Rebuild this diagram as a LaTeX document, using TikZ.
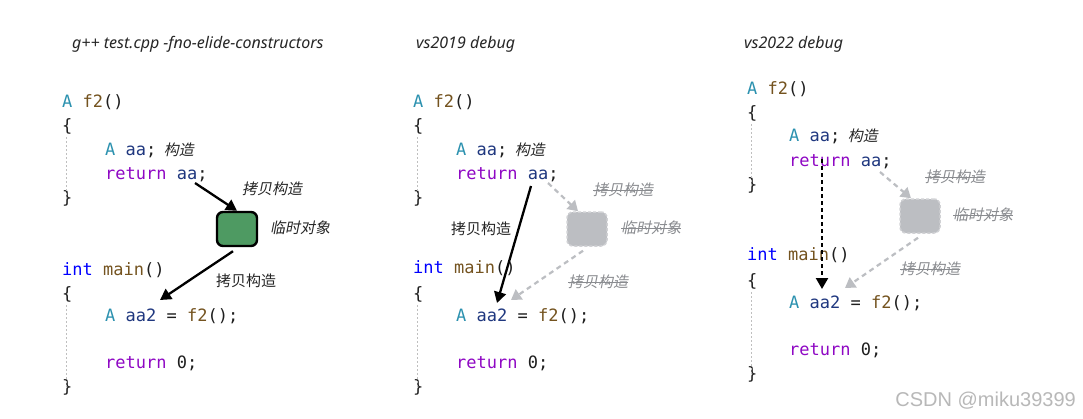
\documentclass[tikz,border=0pt]{standalone}
\usepackage{fontspec}
\setmainfont{Noto Sans}
\setmonofont{DejaVu Sans Mono}
\newfontfamily\cjk{Noto Sans CJK SC}
\newfontfamily\cjki[FakeSlant=0.2]{Noto Sans CJK SC}
\newfontfamily\wm{Liberation Sans}
\usetikzlibrary{arrows.meta}
\definecolor{cType}{HTML}{2B91AF}
\definecolor{cFun}{HTML}{74531F}
\definecolor{cVar}{HTML}{1F377F}
\definecolor{cKey}{HTML}{8F08C4}
\definecolor{cInt}{HTML}{0000FF}
\definecolor{cTxt}{HTML}{1E1E1E}
\definecolor{boxgreen}{HTML}{4E9A62}
\definecolor{ghost}{HTML}{BCBEC2}
\definecolor{ghosttxt}{HTML}{8A8C90}
\newcommand{\tA}{\textcolor{cType}{A}}
\newcommand{\tF}[1]{\textcolor{cFun}{#1}}
\newcommand{\tV}[1]{\textcolor{cVar}{#1}}
\newcommand{\tK}[1]{\textcolor{cKey}{#1}}
\newcommand{\tI}[1]{\textcolor{cInt}{#1}}
\tikzset{
  code/.style={anchor=base west, inner sep=0pt, font=\ttfamily\fontsize{17}{19}\selectfont, text=cTxt},
  title/.style={anchor=west, inner sep=0pt, font=\itshape\fontsize{16}{18}\selectfont, text=black!85},
  note/.style={anchor=west, inner sep=0pt, font=\cjki\fontsize{15}{17}\selectfont, text=black!85},
  noteup/.style={anchor=west, inner sep=0pt, font=\cjk\fontsize{15}{17}\selectfont, text=black!85},
  ghostnote/.style={anchor=west, inner sep=0pt, font=\cjki\fontsize{15}{17}\selectfont, text=ghosttxt,
     append after command={\pgfextra{\draw[ghosttxt, line width=0.9pt] (\tikzlastnode.west) -- (\tikzlastnode.east);}}},
  guide/.style={draw=black!25, dash pattern=on 2pt off 2pt, line width=0.6pt},
  tempbox/.style={draw=black, line width=2.4pt, fill=boxgreen, rounded corners=6pt, minimum width=40pt, minimum height=34pt, inner sep=0pt},
  ghostbox/.style={draw=ghost!70!white, dash pattern=on 3pt off 2pt, line width=1.5pt, fill=ghost, rounded corners=6pt, minimum width=40pt, minimum height=34pt, inner sep=0pt},
  arr/.style={-{Triangle[length=11pt,width=12pt]}, line width=2.3pt, black},
  ghostarr/.style={-{Triangle[length=10pt,width=12pt]}, line width=2.2pt, ghost, dash pattern=on 5pt off 4pt},
  dotarr/.style={-{Triangle[length=11pt,width=12pt]}, line width=2.3pt, black, dash pattern=on 4pt off 3pt},
}
\begin{document}
\begin{tikzpicture}[x=1pt,y=-1pt]
\useasboundingbox[fill=white] (0,0) rectangle (1083,418);

% ---------- Panel 1 ----------
\node[title] (t1) at (72,44) {g++ test.cpp -fno-elide-constructors};
\node[code] (a1) at (62,107) {\tA{} \tF{f2}()};
\node[code] (a2) at (62,131) {\{};
\node[code] (a3) at (105,155) {\tA{} \tV{aa};};
\node[note, anchor=base west] (a3n) at (a3.base east) {\hspace{7pt}构造};
\node[code] (a4) at (105,179) {\tK{return} \tV{aa};};
\node[code] (a5) at (62,203) {\}};
\node[code] (a6) at (62,275) {\tI{int} \tF{main}()};
\node[code] (a7) at (62,299) {\{};
\node[code] (a8) at (105,321) {\tA{} \tV{aa2} = \tF{f2}();};
\node[code] (a9) at (105,368) {\tK{return} 0;};
\node[code] (a10) at (62,392) {\}};
\draw[guide] (66,137) -- (66,200);
\draw[guide] (66,305) -- (66,388);
\node[tempbox] (g1) at (237,229) {};
\node[note] (n11) at (242,189) {拷贝构造};
\node[note] (n12) at (270,228) {临时对象};
\node[noteup] (n13) at (216,281) {拷贝构造};
\coordinate (s1) at (195,183);
\draw[arr] (s1) -- (g1.north);
\coordinate (e1) at (160,300);
\draw[arr] (g1.south) ++(-4,4) -- (e1);

% ---------- Panel 2 ----------
\node[title] (t2) at (416,44) {vs2019 debug};
\node[code] (b1) at (413,107) {\tA{} \tF{f2}()};
\node[code] (b2) at (413,131) {\{};
\node[code] (b3) at (456,155) {\tA{} \tV{aa};};
\node[note, anchor=base west] (b3n) at (b3.base east) {\hspace{7pt}构造};
\node[code] (b4) at (456,179) {\tK{return} \tV{aa};};
\node[code] (b5) at (413,203) {\}};
\node[code] (b6) at (413,273) {\tI{int} \tF{main}()};
\node[code] (b7) at (413,299) {\{};
\node[code] (b8) at (456,321) {\tA{} \tV{aa2} = \tF{f2}();};
\node[code] (b9) at (456,368) {\tK{return} 0;};
\node[code] (b10) at (413,392) {\}};
\draw[guide] (417,137) -- (417,200);
\draw[guide] (417,305) -- (417,388);
\node[ghostbox] (g2) at (587,229) {};
\node[ghostnote] (n21) at (593,190) {拷贝构造};
\node[ghostnote] (n22) at (621,228) {临时对象};
\node[ghostnote] (n23) at (568,282) {拷贝构造};
\node[noteup] (n24) at (451,229) {拷贝构造};
\coordinate (s2) at (531,186);
\coordinate (e2) at (497,303);
\draw[arr] (s2) -- (e2);
\coordinate (s2g) at (548,183);
\draw[ghostarr] (s2g) -- (g2.north -| 578,0);
\coordinate (e2g) at (511,300);
\draw[ghostarr] (g2.south) ++(-4,4) -- (e2g);

% ---------- Panel 3 ----------
\node[title] (t3) at (744,44) {vs2022 debug};
\node[code] (c1) at (747,94) {\tA{} \tF{f2}()};
\node[code] (c2) at (747,118) {\{};
\node[code] (c3) at (789,141) {\tA{} \tV{aa};};
\node[note, anchor=base west] (c3n) at (c3.base east) {\hspace{7pt}构造};
\node[code] (c4) at (789,166) {\tK{return} \tV{aa};};
\node[code] (c5) at (747,190) {\}};
\node[code] (c6) at (747,260) {\tI{int} \tF{main}()};
\node[code] (c7) at (747,286) {\{};
\node[code] (c8) at (789,308) {\tA{} \tV{aa2} = \tF{f2}();};
\node[code] (c9) at (789,355) {\tK{return} 0;};
\node[code] (c10) at (747,379) {\}};
\draw[guide] (751,124) -- (751,187);
\draw[guide] (751,292) -- (751,375);
\node[ghostbox] (g3) at (920,216) {};
\node[ghostnote] (n31) at (925,177) {拷贝构造};
\node[ghostnote] (n32) at (953,215) {临时对象};
\node[ghostnote] (n33) at (900,269) {拷贝构造};
\coordinate (s3) at (822,159);
\coordinate (e3) at (822,289);
\draw[dotarr] (s3) -- (e3);
\coordinate (s3g) at (880,172);
\draw[ghostarr] (s3g) -- (g3.north -| 911,0);
\coordinate (e3g) at (845,288);
\draw[ghostarr] (g3.south) ++(-2,4) -- (e3g);

% watermark
\node[anchor=east, inner sep=0pt, font=\wm\fontsize{20}{22}\selectfont, text=black!28] (wm) at (1076,401) {CSDN @miku39399};
\end{tikzpicture}
\end{document}
